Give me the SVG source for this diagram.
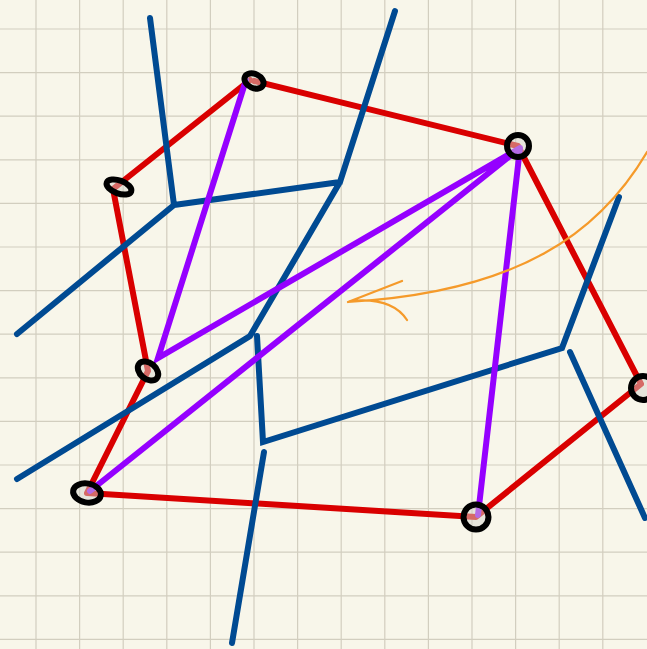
<svg xmlns="http://www.w3.org/2000/svg" width="647" height="649" viewBox="0 0 647 649">
<defs>
<style>
.grid line{stroke:#d2cebf;stroke-width:1.2}
.red{stroke:#d90000;stroke-width:6;fill:none;stroke-linecap:round;stroke-linejoin:round}
.pur{stroke:#9500ff;stroke-width:6;fill:none;stroke-linecap:round}
.blu{stroke:#004a92;stroke-width:6;fill:none;stroke-linecap:round}
.org{stroke:#f59a2a;stroke-width:2.2;fill:none;stroke-linecap:round}
.node{stroke:#000;stroke-width:6;fill:#d4d4cc;fill-opacity:0.5}
</style>
</defs>
<rect width="647" height="649" fill="#f8f6ea"/>
<g class="grid">
<line x1="36" y1="0" x2="36" y2="649"/><line x1="79.6" y1="0" x2="79.6" y2="649"/><line x1="123.2" y1="0" x2="123.2" y2="649"/><line x1="166.8" y1="0" x2="166.8" y2="649"/><line x1="210.4" y1="0" x2="210.4" y2="649"/><line x1="254" y1="0" x2="254" y2="649"/><line x1="297.6" y1="0" x2="297.6" y2="649"/><line x1="341.2" y1="0" x2="341.2" y2="649"/><line x1="384.8" y1="0" x2="384.8" y2="649"/><line x1="428.4" y1="0" x2="428.4" y2="649"/><line x1="472" y1="0" x2="472" y2="649"/><line x1="515.6" y1="0" x2="515.6" y2="649"/><line x1="559.2" y1="0" x2="559.2" y2="649"/><line x1="602.8" y1="0" x2="602.8" y2="649"/>
<line x1="0" y1="29" x2="647" y2="29"/><line x1="0" y1="72.6" x2="647" y2="72.6"/><line x1="0" y1="116.2" x2="647" y2="116.2"/><line x1="0" y1="159.8" x2="647" y2="159.8"/><line x1="0" y1="203.4" x2="647" y2="203.4"/><line x1="0" y1="247" x2="647" y2="247"/><line x1="0" y1="290.6" x2="647" y2="290.6"/><line x1="0" y1="334.2" x2="647" y2="334.2"/><line x1="0" y1="377.8" x2="647" y2="377.8"/><line x1="0" y1="421.4" x2="647" y2="421.4"/><line x1="0" y1="465" x2="647" y2="465"/><line x1="0" y1="508.6" x2="647" y2="508.6"/><line x1="0" y1="552.2" x2="647" y2="552.2"/><line x1="0" y1="595.8" x2="647" y2="595.8"/><line x1="0" y1="639.4" x2="647" y2="639.4"/>
</g>
<g id="connectors">
<path class="red" d="M254,81 L518,146 L641,384 L476,517 L87,493 L148,371 L113,189 L250,80"/>
<path class="blu" d="M150,18 L174,205 L17,334 M174,205 L340,182 L395,11 M340,182 L250,336 L17,479 M257,336 L263,442 L562,348 L619,197 M570,352 L645,518 M264,452 L232,643"/>
<path class="pur" d="M246,80 L158,358 L520,148 L90,491 M520,148 L478,515"/>
<path class="org" d="M647,152 C600,232 520,292 348,302 M348,302 L402,281 M350,301 C380,298 398,306 407,320"/>
</g>
<g id="n1"><ellipse class="node" cx="254" cy="81" rx="10" ry="7" transform="rotate(25 254 81)"/></g>
<g id="n2"><ellipse class="node" cx="119" cy="187" rx="13" ry="6.5" transform="rotate(20 119 187)"/></g>
<g id="n3"><ellipse class="node" cx="148" cy="371" rx="11.5" ry="8" transform="rotate(40 148 371)"/></g>
<g id="n4"><ellipse class="node" cx="87" cy="493" rx="14" ry="9.5" transform="rotate(10 87 493)"/></g>
<g id="n5"><circle class="node" cx="476" cy="517" r="12.5"/></g>
<g id="n6"><circle class="node" cx="518" cy="146" r="11"/></g>
<g id="n7"><circle class="node" cx="643" cy="388" r="12"/></g>
</svg>
